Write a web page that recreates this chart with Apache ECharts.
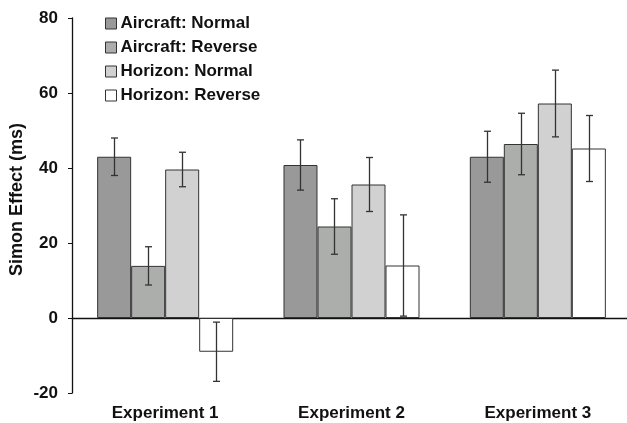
<!DOCTYPE html>
<html>
<head>
<meta charset="utf-8">
<script src="https://cdn.jsdelivr.net/npm/echarts@6/dist/echarts.min.js"></script>
<style>
  html, body { margin: 0; padding: 0; background: #fff; }
  #chart { width: 627px; height: 423px; }
</style>
</head>
<body>
<div id="chart"></div>
<script>
var categories = ["Experiment 1", "Experiment 2", "Experiment 3"];
var seriesNames = ["Aircraft: Normal", "Aircraft: Reverse", "Horizon: Normal", "Horizon: Reverse"];
var aircraftNormal = [43.0, 40.8, 43.0];
var aircraftReverse = [13.9, 24.4, 46.4];
var horizonNormal = [39.6, 35.6, 57.2];
var horizonReverse = [-9.0, 14.0, 45.2];
// half-length of error bars
var aircraftNormalErr = [5.0, 6.7, 6.8];
var aircraftReverseErr = [5.1, 7.4, 8.2];
var horizonNormalErr = [4.6, 7.2, 8.9];
var horizonReverseErr = [7.9, 13.5, 8.8];

var colors = ["#999999", "#acaeac", "#d1d1d1", "#ffffff"];
var values = [aircraftNormal, aircraftReverse, horizonNormal, horizonReverse];
var errs = [aircraftNormalErr, aircraftReverseErr, horizonNormalErr, horizonReverseErr];
var catGap = 0.27;

var myChart = echarts.init(document.getElementById("chart"));

var series = [];
values.forEach(function (vals, i) {
  series.push({
    name: seriesNames[i],
    type: "bar",
    barGap: "0%",
    barCategoryGap: (catGap * 100) + "%",
    itemStyle: { color: colors[i], borderColor: "#333", borderWidth: 1 },
    data: vals
  });
});
values.forEach(function (vals, i) {
  series.push({
    type: "custom",
    silent: true,
    z: 10,
    data: vals.map(function (v, j) { return [j, v - errs[i][j], v + errs[i][j]]; }),
    renderItem: function (params, api) {
      var band = api.size([1, 0])[0];
      var bw = band * (1 - catGap) / 4;
      var lo = api.coord([api.value(0), api.value(1)]);
      var hi = api.coord([api.value(0), api.value(2)]);
      var x = Math.round(lo[0] + (i - 1.5) * bw) + 0.5;
      var cap = 3.5;
      var st = { stroke: "#333", lineWidth: 1.3 };
      return {
        type: "group",
        children: [
          { type: "line", shape: { x1: x, y1: lo[1], x2: x, y2: hi[1] }, style: st },
          { type: "line", shape: { x1: x - cap, y1: lo[1], x2: x + cap, y2: lo[1] }, style: st },
          { type: "line", shape: { x1: x - cap, y1: hi[1], x2: x + cap, y2: hi[1] }, style: st }
        ]
      };
    }
  });
});

var option = {
  animation: false,
  textStyle: { fontFamily: "Liberation Sans, Arial, sans-serif" },
  grid: { left: 72, right: -4, top: 18, bottom: 30, outerBoundsMode: "none" },
  legend: {
    orient: "vertical",
    left: 100,
    top: 10,
    itemGap: 7,
    itemWidth: 11,
    itemHeight: 11,
    icon: "rect",
    data: seriesNames,
    itemStyle: { borderColor: "#333", borderWidth: 1 },
    textStyle: { fontSize: 17, fontWeight: "bold", color: "#111", padding: [0, 0, 0, -1] }
  },
  xAxis: [
    {
      type: "category",
      data: categories,
      axisLine: { lineStyle: { color: "#111", width: 1.3 } },
      axisTick: { length: 5, lineStyle: { color: "#111" } },
      axisLabel: { show: false }
    },
    {
      type: "category",
      data: categories,
      position: "bottom",
      axisLine: { show: false, onZero: false },
      axisTick: { show: false },
      axisLabel: { margin: 12, fontSize: 17, fontWeight: "bold", color: "#111" }
    }
  ],
  yAxis: {
    type: "value",
    min: -20,
    max: 80,
    interval: 20,
    name: "Simon Effect (ms)",
    nameLocation: "middle",
    nameGap: 46,
    nameMoveOverlap: false,
    nameTextStyle: { fontSize: 18, fontWeight: "bold", color: "#111", padding: [0, 0, 0, 12] },
    axisLine: { show: true, lineStyle: { color: "#111", width: 1.3 } },
    axisTick: { show: true, length: 4, lineStyle: { color: "#111" } },
    axisLabel: { margin: 14, fontSize: 17, fontWeight: "bold", color: "#111" },
    splitLine: { show: false }
  },
  series: series
};
myChart.setOption(option, true);
</script>
</body>
</html>
